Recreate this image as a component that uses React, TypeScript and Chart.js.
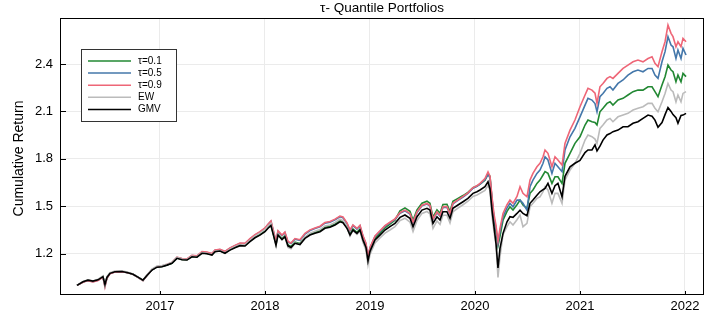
import React, { useEffect, useRef } from "react";
import { Chart, registerables } from "chart.js";

Chart.register(...registerables);

const dates = [
  2016.210, 2016.267, 2016.314, 2016.362, 2016.410, 2016.457, 2016.476, 2016.495, 2016.524, 2016.571, 2016.638, 2016.695, 2016.743, 2016.790, 2016.838, 2016.876, 2016.924, 2016.971,
  2017.019, 2017.067, 2017.114, 2017.162, 2017.210, 2017.257, 2017.305, 2017.352, 2017.400, 2017.448, 2017.495, 2017.524, 2017.571, 2017.619, 2017.667, 2017.714, 2017.762, 2017.810, 2017.857, 2017.905, 2017.952,
  2018.000, 2018.029, 2018.057, 2018.076, 2018.105, 2018.124, 2018.162, 2018.190, 2018.219, 2018.248, 2018.286, 2018.333, 2018.381, 2018.429, 2018.476, 2018.524, 2018.571, 2018.619, 2018.667, 2018.714, 2018.743, 2018.781, 2018.810, 2018.838, 2018.876, 2018.905, 2018.933, 2018.962, 2018.981,
  2019.000, 2019.048, 2019.095, 2019.143, 2019.190, 2019.238, 2019.286, 2019.333, 2019.381, 2019.410, 2019.448, 2019.495, 2019.543, 2019.571, 2019.600, 2019.638, 2019.667, 2019.695, 2019.733, 2019.762, 2019.790, 2019.838, 2019.886, 2019.933, 2019.981,
  2020.019, 2020.048, 2020.095, 2020.124, 2020.143, 2020.162, 2020.181, 2020.200, 2020.219, 2020.238, 2020.267, 2020.305, 2020.333, 2020.362, 2020.400, 2020.429, 2020.457, 2020.495, 2020.524, 2020.552, 2020.590, 2020.619, 2020.648, 2020.667, 2020.695, 2020.733, 2020.762, 2020.790, 2020.829, 2020.857, 2020.905, 2020.952,
  2021.000, 2021.048, 2021.076, 2021.114, 2021.143, 2021.162, 2021.190, 2021.219, 2021.257, 2021.286, 2021.314, 2021.362, 2021.410, 2021.457, 2021.505, 2021.552, 2021.600, 2021.648, 2021.686, 2021.714, 2021.743, 2021.781, 2021.810, 2021.838, 2021.867, 2021.886, 2021.914, 2021.933, 2021.962, 2021.981, 2022.010,
];

const gmv = [
  1.000, 1.023, 1.033, 1.027, 1.035, 1.055, 1.005, 1.050, 1.076, 1.086, 1.088, 1.080, 1.070, 1.052, 1.033, 1.062, 1.097, 1.115,
  1.118, 1.128, 1.139, 1.171, 1.162, 1.160, 1.181, 1.178, 1.203, 1.200, 1.192, 1.213, 1.217, 1.203, 1.223, 1.238, 1.251, 1.249, 1.276, 1.301, 1.318,
  1.339, 1.361, 1.378, 1.330, 1.255, 1.318, 1.290, 1.308, 1.250, 1.240, 1.266, 1.258, 1.297, 1.318, 1.329, 1.339, 1.361, 1.367, 1.382, 1.402, 1.396, 1.361, 1.318, 1.350, 1.329, 1.350, 1.287, 1.240, 1.155,
  1.215, 1.287, 1.318, 1.350, 1.371, 1.392, 1.430, 1.445, 1.424, 1.371, 1.434, 1.476, 1.487, 1.476, 1.392, 1.434, 1.413, 1.466, 1.466, 1.424, 1.487, 1.508, 1.529, 1.550, 1.582,
  1.592, 1.603, 1.624, 1.655, 1.610, 1.476, 1.371, 1.266, 1.110, 1.234, 1.329, 1.402, 1.434, 1.430, 1.455, 1.476, 1.455, 1.440, 1.519, 1.540, 1.570, 1.592, 1.605, 1.613, 1.645, 1.582, 1.630, 1.645, 1.560, 1.690, 1.750, 1.772,
  1.790, 1.840, 1.856, 1.856, 1.888, 1.850, 1.880, 1.919, 1.951, 1.960, 1.972, 1.982, 2.003, 2.003, 2.025, 2.035, 2.056, 2.077, 2.070, 2.045, 2.000, 2.030, 2.080, 2.125, 2.100, 2.080, 2.060, 2.025, 2.075, 2.077, 2.088,
];

const tau09 = [
  1.000, 1.020, 1.030, 1.022, 1.030, 1.052, 0.990, 1.045, 1.074, 1.085, 1.087, 1.080, 1.070, 1.050, 1.030, 1.062, 1.100, 1.118,
  1.122, 1.133, 1.145, 1.178, 1.170, 1.168, 1.190, 1.187, 1.213, 1.210, 1.202, 1.224, 1.228, 1.215, 1.237, 1.253, 1.267, 1.266, 1.295, 1.321, 1.340,
  1.363, 1.387, 1.408, 1.358, 1.280, 1.345, 1.318, 1.337, 1.278, 1.268, 1.296, 1.289, 1.329, 1.351, 1.363, 1.374, 1.397, 1.404, 1.419, 1.438, 1.432, 1.395, 1.350, 1.382, 1.360, 1.380, 1.315, 1.266, 1.180,
  1.240, 1.313, 1.345, 1.378, 1.399, 1.421, 1.460, 1.476, 1.455, 1.400, 1.465, 1.507, 1.518, 1.506, 1.420, 1.464, 1.442, 1.497, 1.498, 1.454, 1.519, 1.541, 1.563, 1.585, 1.618,
  1.630, 1.645, 1.675, 1.718, 1.690, 1.560, 1.450, 1.380, 1.280, 1.360, 1.455, 1.510, 1.539, 1.519, 1.562, 1.624, 1.582, 1.560, 1.666, 1.708, 1.750, 1.772, 1.813, 1.856, 1.835, 1.750, 1.813, 1.793, 1.761, 1.898, 1.982, 2.046,
  2.130, 2.204, 2.246, 2.235, 2.215, 2.151, 2.256, 2.277, 2.309, 2.320, 2.309, 2.341, 2.372, 2.393, 2.414, 2.425, 2.414, 2.435, 2.446, 2.404, 2.383, 2.478, 2.541, 2.646, 2.594, 2.573, 2.509, 2.541, 2.509, 2.562, 2.541,
];

const tau05 = [
  1.000, 1.021, 1.031, 1.024, 1.032, 1.053, 0.995, 1.047, 1.075, 1.085, 1.087, 1.080, 1.070, 1.051, 1.031, 1.062, 1.099, 1.117,
  1.121, 1.131, 1.143, 1.176, 1.168, 1.166, 1.188, 1.185, 1.211, 1.208, 1.200, 1.222, 1.226, 1.213, 1.235, 1.251, 1.265, 1.264, 1.292, 1.318, 1.337,
  1.360, 1.384, 1.404, 1.354, 1.277, 1.341, 1.314, 1.333, 1.274, 1.264, 1.292, 1.285, 1.325, 1.347, 1.359, 1.370, 1.393, 1.400, 1.415, 1.434, 1.428, 1.391, 1.346, 1.378, 1.356, 1.376, 1.311, 1.262, 1.176,
  1.236, 1.309, 1.341, 1.374, 1.395, 1.417, 1.456, 1.472, 1.451, 1.396, 1.461, 1.503, 1.514, 1.502, 1.416, 1.460, 1.438, 1.493, 1.494, 1.450, 1.515, 1.537, 1.559, 1.581, 1.614,
  1.626, 1.640, 1.668, 1.700, 1.680, 1.550, 1.430, 1.360, 1.265, 1.340, 1.434, 1.490, 1.519, 1.497, 1.540, 1.539, 1.519, 1.476, 1.624, 1.666, 1.708, 1.729, 1.772, 1.813, 1.793, 1.708, 1.772, 1.750, 1.719, 1.856, 1.940, 1.993,
  2.066, 2.140, 2.183, 2.172, 2.150, 2.098, 2.193, 2.214, 2.246, 2.256, 2.235, 2.277, 2.299, 2.330, 2.351, 2.362, 2.351, 2.372, 2.372, 2.330, 2.309, 2.414, 2.478, 2.573, 2.520, 2.509, 2.435, 2.488, 2.435, 2.499, 2.457,
];

const tau01 = [
  1.000, 1.022, 1.032, 1.026, 1.034, 1.055, 1.000, 1.049, 1.076, 1.086, 1.088, 1.080, 1.070, 1.052, 1.032, 1.062, 1.098, 1.116,
  1.119, 1.129, 1.140, 1.173, 1.164, 1.162, 1.183, 1.180, 1.205, 1.202, 1.194, 1.215, 1.219, 1.206, 1.226, 1.241, 1.255, 1.253, 1.280, 1.305, 1.322,
  1.344, 1.366, 1.384, 1.335, 1.260, 1.323, 1.296, 1.314, 1.256, 1.246, 1.273, 1.265, 1.304, 1.325, 1.336, 1.346, 1.368, 1.374, 1.389, 1.409, 1.403, 1.368, 1.324, 1.356, 1.335, 1.356, 1.292, 1.245, 1.160,
  1.222, 1.297, 1.330, 1.363, 1.388, 1.412, 1.472, 1.490, 1.468, 1.412, 1.478, 1.520, 1.532, 1.520, 1.432, 1.478, 1.456, 1.512, 1.513, 1.468, 1.532, 1.550, 1.568, 1.588, 1.618,
  1.628, 1.640, 1.665, 1.705, 1.690, 1.540, 1.420, 1.345, 1.250, 1.310, 1.413, 1.468, 1.497, 1.476, 1.510, 1.539, 1.508, 1.487, 1.582, 1.603, 1.645, 1.666, 1.698, 1.719, 1.708, 1.645, 1.687, 1.687, 1.645, 1.772, 1.835, 1.898,
  1.940, 2.014, 2.046, 2.035, 2.030, 2.014, 2.098, 2.120, 2.151, 2.161, 2.140, 2.172, 2.183, 2.204, 2.225, 2.235, 2.235, 2.256, 2.256, 2.225, 2.193, 2.267, 2.320, 2.393, 2.362, 2.351, 2.288, 2.330, 2.288, 2.341, 2.320,
];

const ew = [
  1.000, 1.025, 1.035, 1.028, 1.038, 1.060, 0.998, 1.055, 1.080, 1.090, 1.092, 1.083, 1.072, 1.052, 1.030, 1.065, 1.103, 1.122,
  1.125, 1.134, 1.145, 1.176, 1.166, 1.163, 1.185, 1.181, 1.207, 1.203, 1.193, 1.216, 1.220, 1.205, 1.228, 1.244, 1.258, 1.256, 1.285, 1.311, 1.330,
  1.352, 1.375, 1.392, 1.338, 1.250, 1.322, 1.290, 1.310, 1.240, 1.232, 1.268, 1.258, 1.305, 1.330, 1.342, 1.353, 1.376, 1.382, 1.398, 1.418, 1.410, 1.365, 1.312, 1.348, 1.322, 1.343, 1.272, 1.222, 1.130,
  1.195, 1.268, 1.300, 1.330, 1.350, 1.372, 1.410, 1.425, 1.400, 1.340, 1.410, 1.455, 1.467, 1.452, 1.360, 1.408, 1.385, 1.443, 1.443, 1.395, 1.465, 1.488, 1.510, 1.532, 1.562,
  1.572, 1.583, 1.600, 1.632, 1.600, 1.440, 1.340, 1.260, 1.050, 1.180, 1.320, 1.372, 1.402, 1.382, 1.415, 1.445, 1.371, 1.392, 1.497, 1.519, 1.550, 1.560, 1.592, 1.624, 1.603, 1.519, 1.582, 1.582, 1.519, 1.666, 1.729, 1.772,
  1.835, 1.919, 1.951, 1.940, 1.925, 1.898, 1.993, 2.014, 2.046, 2.056, 2.035, 2.066, 2.077, 2.088, 2.109, 2.120, 2.130, 2.151, 2.151, 2.120, 2.098, 2.161, 2.214, 2.277, 2.235, 2.225, 2.161, 2.204, 2.161, 2.214, 2.225,
];

const seriesNames = ["τ=0.1", "τ=0.5", "τ=0.9", "EW", "GMV"];
const seriesColors = ["#228833", "#4477AA", "#EE6677", "#BBBBBB", "#000000"];
const seriesValues = [tau01, tau05, tau09, ew, gmv];
const xTickYears = [2017, 2018, 2019, 2020, 2021, 2022];
const yTickValues = [1.2, 1.5, 1.8, 2.1, 2.4];
const titleText = "τ- Quantile Portfolios";
const yLabelText = "Cumulative Return";

const FONT = "'Liberation Sans', Arial, Helvetica, sans-serif";

const overlay = {
  id: "overlay",
  afterDraw(chart: any) {
    const { ctx, chartArea: a, scales } = chart;
    const xs = scales.x;
    const ys = scales.y;
    ctx.save();
    // frame
    ctx.strokeStyle = "#000";
    ctx.lineWidth = 1;
    ctx.strokeRect(a.left + 0.5, a.top + 0.5, a.right - a.left - 1, a.bottom - a.top - 1);
    // inside ticks
    ctx.beginPath();
    yTickValues.forEach((v) => {
      const y = Math.round(ys.getPixelForValue(v)) + 0.5;
      ctx.moveTo(a.left, y);
      ctx.lineTo(a.left + 6, y);
    });
    xTickYears.forEach((v) => {
      const x = Math.round(xs.getPixelForValue(v)) + 0.5;
      ctx.moveTo(x, a.bottom);
      ctx.lineTo(x, a.bottom - 4);
    });
    ctx.stroke();
    // title
    ctx.fillStyle = "#000";
    ctx.font = `13.5px ${FONT}`;
    ctx.textAlign = "center";
    ctx.textBaseline = "middle";
    ctx.fillText(titleText, (a.left + a.right) / 2, 8);
    // y label
    ctx.save();
    ctx.font = `14px ${FONT}`;
    ctx.translate(19, (a.top + a.bottom) / 2 + 2);
    ctx.rotate(-Math.PI / 2);
    ctx.fillText(yLabelText, 0, 0);
    ctx.restore();
    // legend
    const lx = 81, ly = 49, lw = 95, lh = 72;
    ctx.fillStyle = "#fff";
    ctx.fillRect(lx, ly, lw, lh);
    ctx.strokeStyle = "#333";
    ctx.lineWidth = 1;
    ctx.strokeRect(lx + 0.5, ly + 0.5, lw, lh);
    ctx.font = `10px ${FONT}`;
    ctx.textAlign = "left";
    ctx.textBaseline = "middle";
    seriesNames.forEach((name, i) => {
      const y = ly + 12 + i * 12.1;
      ctx.strokeStyle = seriesColors[i];
      ctx.lineWidth = 1.5;
      ctx.beginPath();
      ctx.moveTo(88, y);
      ctx.lineTo(131, y);
      ctx.stroke();
      ctx.fillStyle = "#000";
      ctx.fillText(name, 138, y);
    });
    ctx.restore();
  },
};

export default function App() {
  const ref = useRef<HTMLCanvasElement>(null);
  useEffect(() => {
    if (!ref.current) return;
    const datasets = seriesNames.map((name, i) => ({
      label: name,
      data: dates.map((d, j) => ({ x: d, y: seriesValues[i][j] })),
      borderColor: seriesColors[i],
      backgroundColor: seriesColors[i],
      borderWidth: 1.6,
      pointRadius: 0,
      tension: 0,
      fill: false,
      order: seriesNames.length - 1 - i,
    }));
    const chart = new Chart(ref.current, {
      type: "line",
      data: { datasets },
      plugins: [overlay],
      options: {
        animation: false,
        responsive: false,
        devicePixelRatio: 1,
        parsing: false as any,
        layout: { padding: { left: 0, top: 18, right: 10, bottom: 0 } },
        plugins: {
          legend: { display: false },
          title: { display: false },
          tooltip: { enabled: false },
        },
        scales: {
          x: {
            type: "linear",
            min: 2016.048,
            max: 2022.181,
            afterBuildTicks: (s: any) => {
              s.ticks = xTickYears.map((v) => ({ value: v }));
            },
            afterFit: (s: any) => {
              s.height = 22;
            },
            grid: { color: "#ebebeb", lineWidth: 1, drawTicks: false },
            border: { display: false },
            ticks: {
              padding: 4,
              color: "#000",
              font: { family: FONT, size: 13 },
              maxRotation: 0,
              autoSkip: false,
              callback: (v: any) => String(Math.round(v)),
            },
          },
          y: {
            type: "linear",
            min: 0.939,
            max: 2.691,
            afterBuildTicks: (s: any) => {
              s.ticks = yTickValues.map((v) => ({ value: v }));
            },
            afterFit: (s: any) => {
              s.width = 60;
            },
            grid: { color: "#ebebeb", lineWidth: 1, drawTicks: false },
            border: { display: false },
            ticks: {
              padding: 7,
              color: "#000",
              font: { family: FONT, size: 13 },
              autoSkip: false,
              callback: (v: any) => Number(v).toFixed(1),
            },
          },
        },
      },
    });
    return () => chart.destroy();
  }, []);
  return (
    <div style={{ position: "fixed", left: 0, top: 0, width: 714, height: 317, background: "#fff" }}>
      <canvas ref={ref} width={714} height={317} style={{ display: "block" }} />
    </div>
  );
}
